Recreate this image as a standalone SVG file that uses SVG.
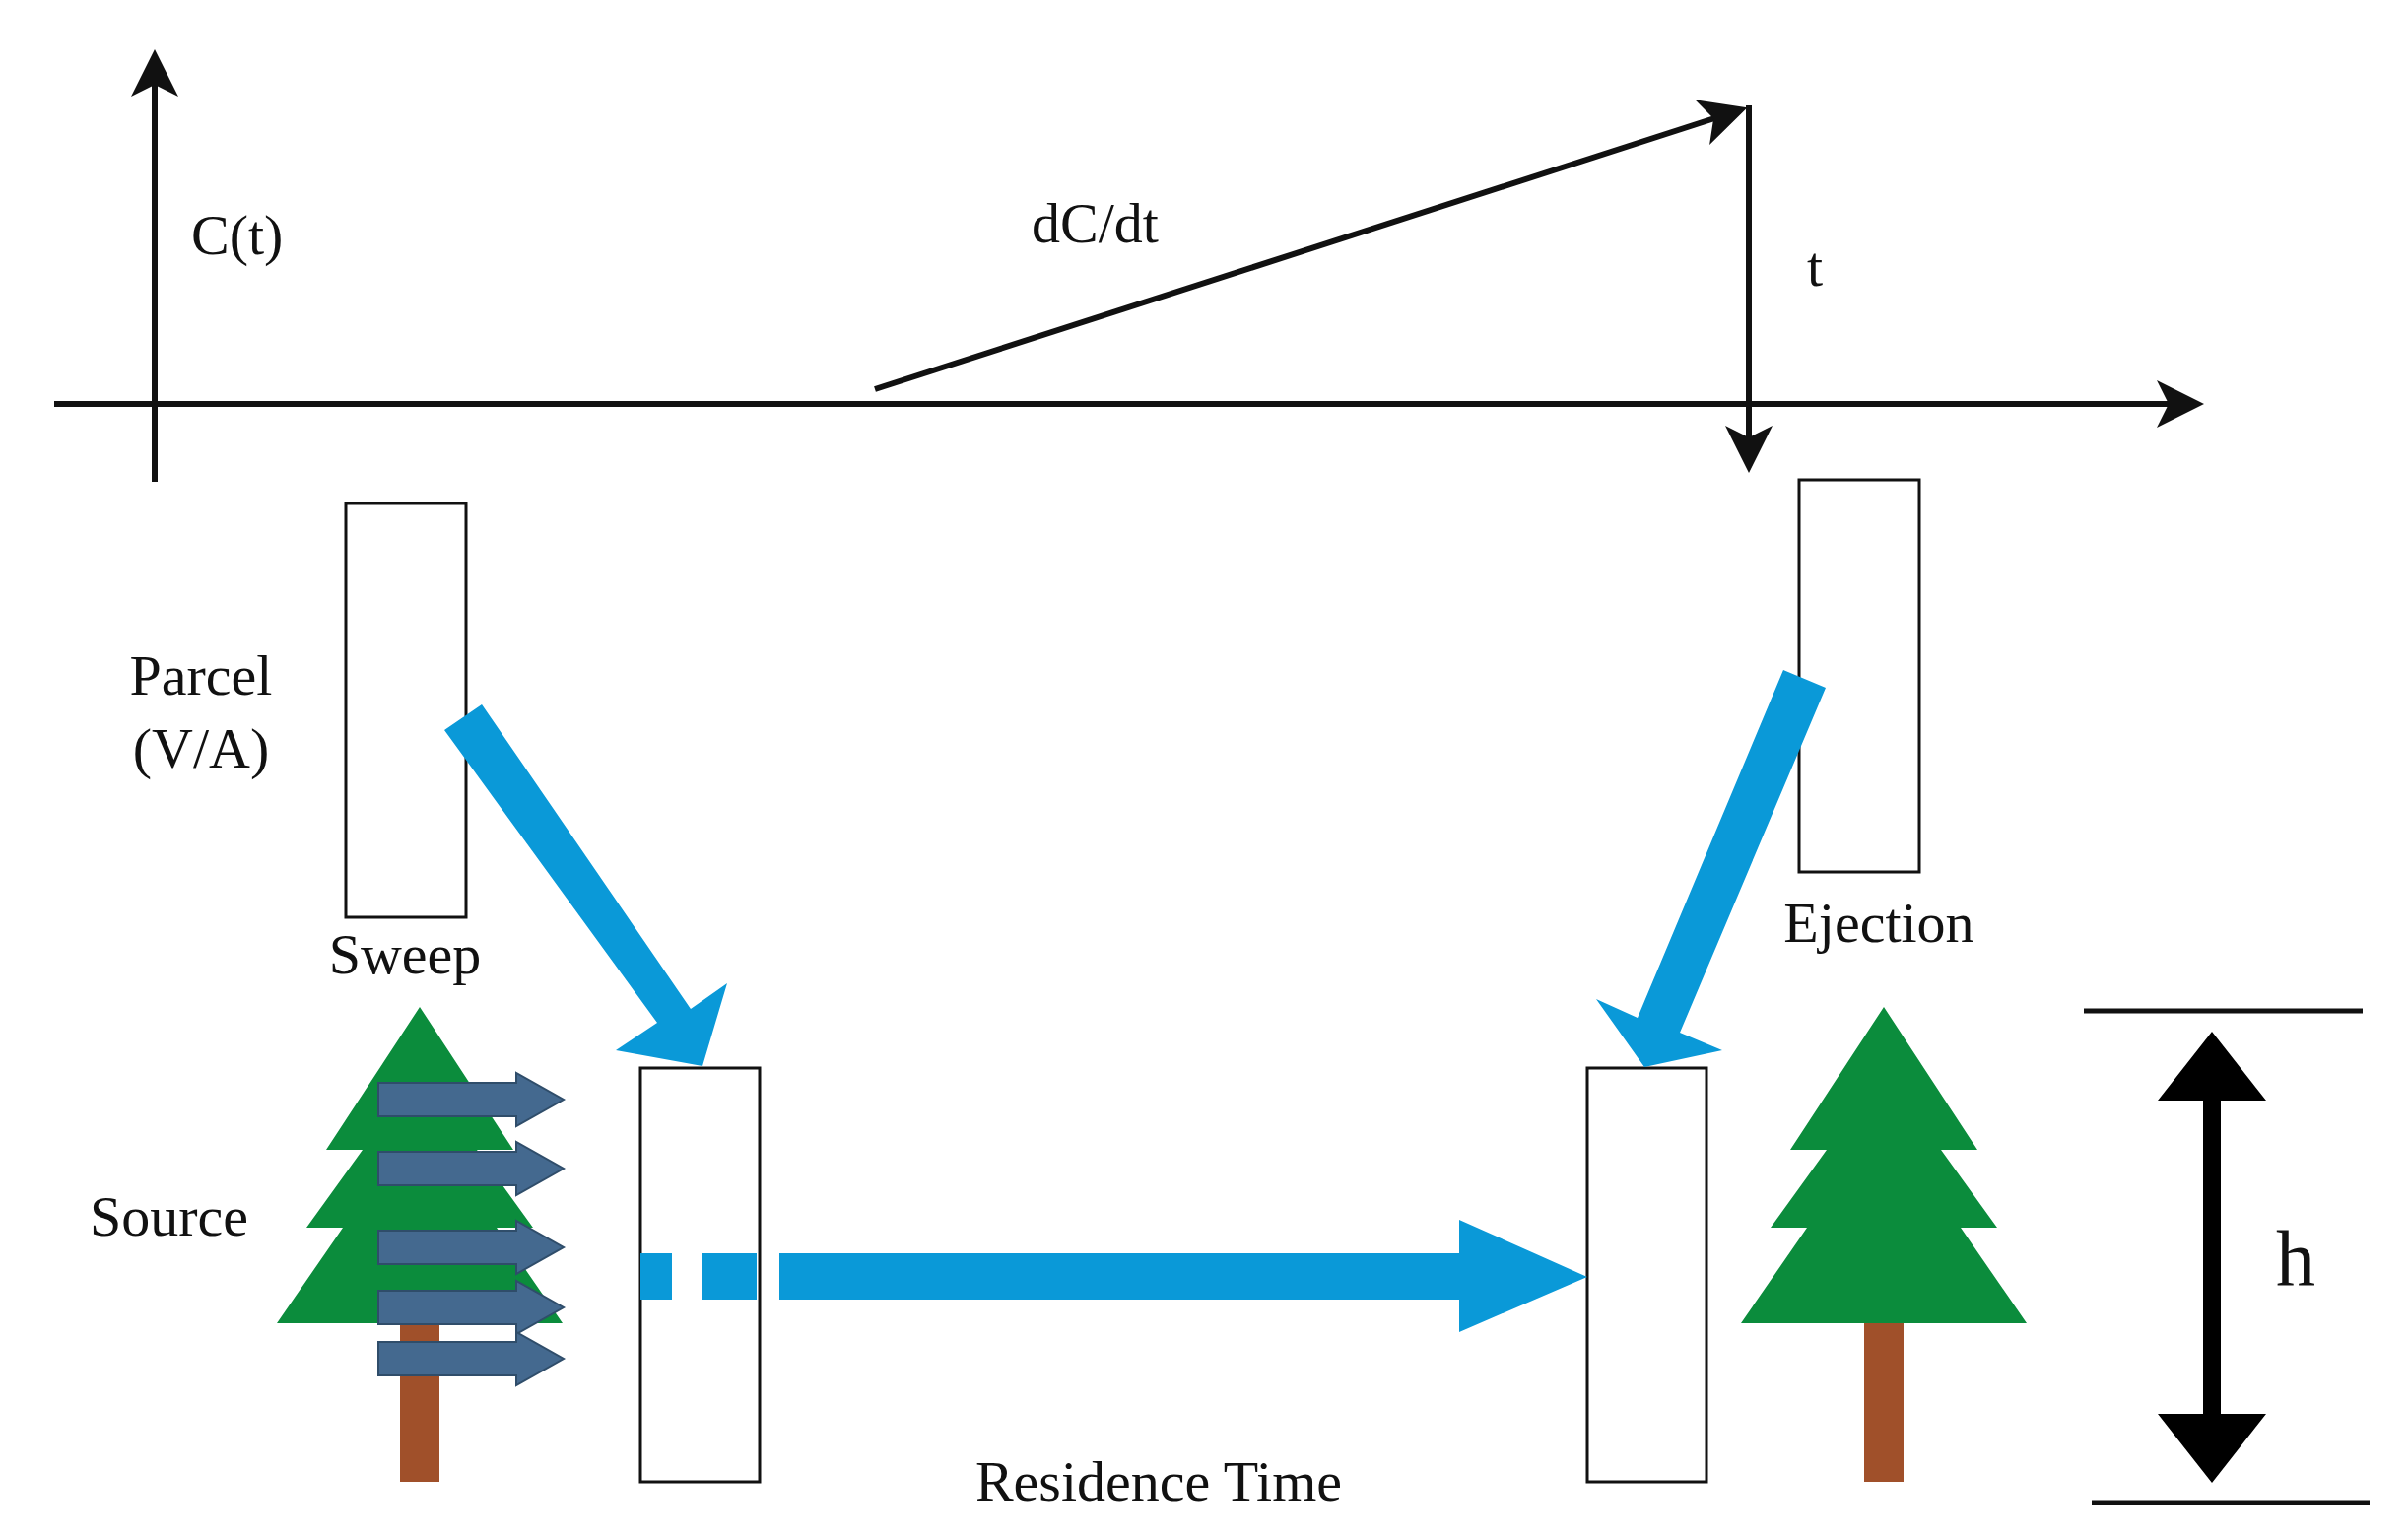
<svg xmlns="http://www.w3.org/2000/svg" width="2444" height="1561" viewBox="0 0 2444 1561">
<style>
text{font-family:"Liberation Serif","Times New Roman",serif;fill:#111}
.ax{stroke:#111;stroke-width:6;fill:none}
.box{fill:#fff;stroke:#111;stroke-width:3}
.blue{fill:#0a99d8}
.slate{fill:#44698f;stroke:#2f4d6a;stroke-width:2}
.green{fill:#0b8c3c}
.trunk{fill:#a0502a}
</style>
<defs>
<marker id="ah" markerWidth="8" markerHeight="8" refX="6" refY="4" orient="auto" markerUnits="strokeWidth"><path d="M0,0 L8,4 L0,8 L2,4 Z" fill="#111"/></marker>
<g id="tree">
<rect class="trunk" x="-20" y="320" width="40" height="162"/>
<path class="green" d="M0,0 L95,145 L58,145 L115,224 L78,224 L145,321 L-145,321 L-78,224 L-115,224 L-58,145 L-95,145 Z"/>
</g>
<path id="sa" class="slate" d="M0,-17 L140,-17 L140,-27 L188,0 L140,27 L140,17 L0,17 Z"/>
</defs>
<g id="tree-left"><use href="#tree" x="426" y="1022"/></g>
<g id="tree-right"><use href="#tree" x="1912" y="1022"/></g>
<g id="sweep-arrows">
<use href="#sa" x="384" y="1116"/>
<use href="#sa" x="384" y="1186"/>
<use href="#sa" x="384" y="1266"/>
<use href="#sa" x="384" y="1327"/>
<use href="#sa" x="384" y="1379"/>
</g>
<g id="parcel"><rect class="box" x="351" y="511" width="122" height="420"/></g>
<g id="ejection-box"><rect class="box" x="1826" y="487" width="122" height="398"/></g>
<g id="box-bl"><rect class="box" x="650" y="1084" width="121" height="420" fill-opacity="0"/></g>
<g id="box-br"><rect class="box" x="1611" y="1084" width="121" height="420"/></g>
<g id="connectors">
<line class="ax" x1="157" y1="489" x2="157" y2="62" marker-end="url(#ah)"/>
<line class="ax" x1="55" y1="410" x2="2225" y2="410" marker-end="url(#ah)"/>
<line class="ax" x1="888" y1="395" x2="1762" y2="113" marker-end="url(#ah)"/>
<line class="ax" x1="1775" y1="107" x2="1775" y2="468" marker-end="url(#ah)"/>
<path class="blue" d="M451,741 L489,715 L701,1024 L738,998 L713,1082 L625,1066 L667,1038 Z"/>
<path class="blue" d="M1810,680 L1853,698 L1705,1048 L1748,1066 L1669,1083 L1620,1014 L1662,1033 Z"/>
<rect class="blue" x="650" y="1272" width="32" height="47"/>
<rect class="blue" x="713" y="1272" width="55" height="47"/>
<path class="blue" d="M791,1272 L1481,1272 L1481,1238 L1611,1296 L1481,1352 L1481,1319 L791,1319 Z"/>
<path fill="#000" d="M2236,1117 L2254,1117 L2254,1435 L2300,1435 L2245,1505 L2190,1435 L2236,1435 L2236,1117 L2190,1117 L2245,1047 L2300,1117 L2254,1117 Z"/>
<line stroke="#111" stroke-width="5" x1="2115" y1="1026" x2="2398" y2="1026"/>
<line stroke="#111" stroke-width="5" x1="2123" y1="1525" x2="2405" y2="1525"/>
</g>
<g id="labels">
<text x="194" y="258" font-size="58">C(t)</text>
<text x="1047" y="246" font-size="58">dC/dt</text>
<text x="1834" y="290" font-size="58">t</text>
<text x="204" y="705" text-anchor="middle" font-size="58">Parcel</text>
<text x="204" y="779" text-anchor="middle" font-size="58">(V/A)</text>
<text x="411" y="988" text-anchor="middle" font-size="58">Sweep</text>
<text x="1907" y="956" text-anchor="middle" font-size="58">Ejection</text>
<text x="91" y="1254" font-size="58">Source</text>
<text x="1176" y="1523" text-anchor="middle" font-size="58">Residence Time</text>
<text x="2310" y="1304" font-size="80">h</text>
</g>
</svg>
